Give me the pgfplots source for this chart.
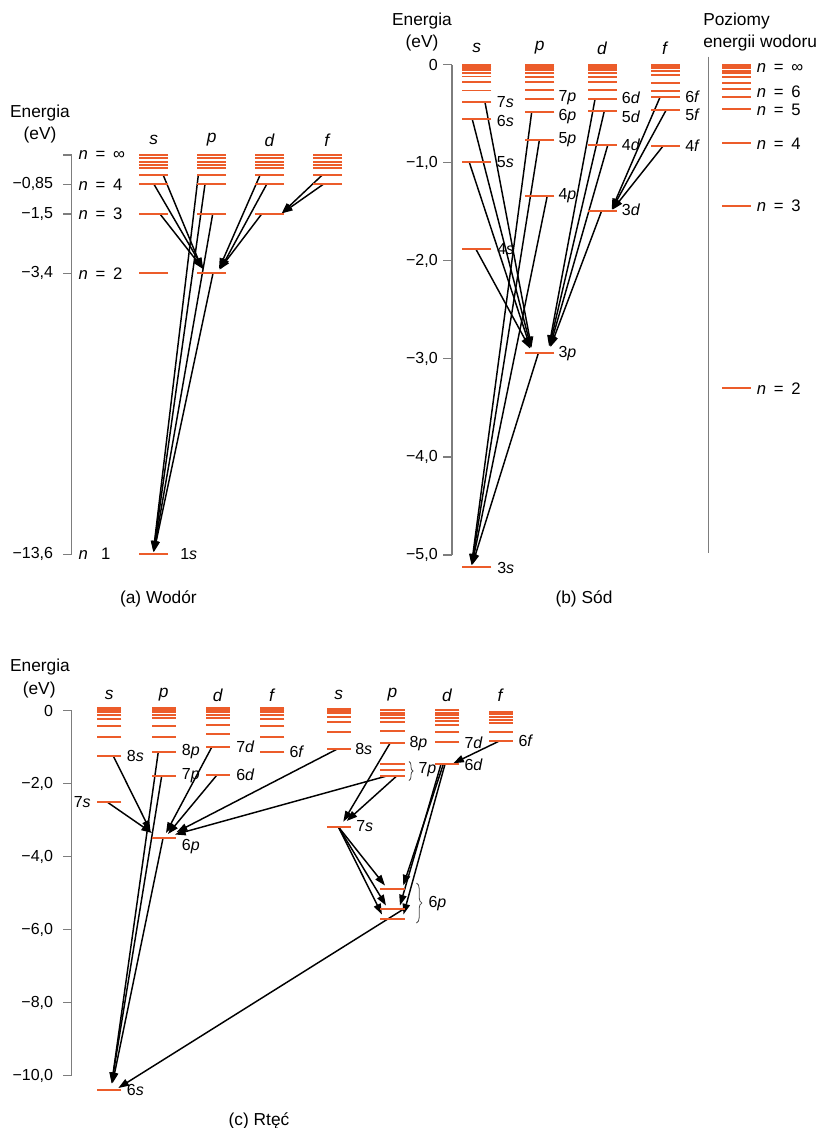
\documentclass[border=0pt]{standalone}
\usepackage{pgfplots}
\pgfplotsset{compat=1.18}
\usepackage{fontspec}
\setmainfont{Liberation Sans}
\usetikzlibrary{arrows.meta,decorations.pathreplacing}
\definecolor{lvl}{RGB}{236,92,42}
\definecolor{axgray}{RGB}{125,125,125}
\newcommand\lbl{\fontsize{12}{14}\selectfont}
\newcommand\ttl{\fontsize{13}{15}\selectfont}
\newcommand\nfont{\fontsize{12.5}{15}\selectfont}
\def\splitlbl#1#2{#1\textit{#2}}
\newcommand\nl[1]{{\nfont\textit{n}\hspace{5.8pt}=\hspace{5.8pt}#1}}
\pgfplotsset{
  panel/.style={scale only axis, clip=false,
    axis x line=none, axis y line*=left,
    axis line style={axgray, line width=1pt, -},
    every tick/.style={axgray, line width=1pt},
    tick align=outside, major tick length=6.5pt,
    yticklabel style={font=\lbl, text=black, anchor=east, inner sep=0pt},
    xtick=\empty},
  lev/.style={only marks, mark=-, color=lvl, mark options={line width=1.45pt}},
  arr/.style={black, line width=1.1pt, -{Triangle[length=8pt,width=5.5pt]}, mark=none},
}
\newcommand\ar[4]{\addplot[arr] coordinates {(#1,#2) (#3,#4)};}
\begin{document}
\begin{tikzpicture}
\path[use as bounding box] (0,0) rectangle (613.5pt,-846pt);
% ---------------- (a) hydrogen (schematic energy scale) ----------------
\begin{axis}[panel, at={(53.775pt,-116.25pt)}, anchor=north west,
  width=208.7pt, height=299.5pt, xmin=71.7, xmax=350, ymin=-11.574, ymax=0,
  ytick={0,-0.849,-1.71,-3.43,-11.574},
  yticklabels={{},{−0,85},{−1,5},{−3,4},{−13,6}},
  yticklabel style={xshift=-7.3pt}]
\addplot[lev, mark size=10.9pt] coordinates {(153.7,0) (153.7,-0.096) (153.7,-0.194) (153.7,-0.281) (153.7,-0.386) (153.7,-0.588) (153.7,-0.849) (153.7,-1.71) (153.7,-3.43) (153.7,-11.574)};
\addplot[lev, mark size=10.9pt] coordinates {(211.7,0) (211.7,-0.096) (211.7,-0.194) (211.7,-0.281) (211.7,-0.386) (211.7,-0.588) (211.7,-0.849) (211.7,-1.71) (211.7,-3.43)};
\addplot[lev, mark size=10.9pt] coordinates {(269.6,0) (269.6,-0.096) (269.6,-0.194) (269.6,-0.281) (269.6,-0.386) (269.6,-0.588) (269.6,-0.849) (269.6,-1.71)};
\addplot[lev, mark size=10.9pt] coordinates {(327.5,0) (327.5,-0.096) (327.5,-0.194) (327.5,-0.281) (327.5,-0.386) (327.5,-0.588) (327.5,-0.849)};
\ar{163.3}{-0.588}{202}{-3.29}
\ar{154}{-0.849}{203.5}{-3.31}
\ar{160}{-1.71}{203}{-3.30}
\ar{260}{-0.588}{219}{-3.30}
\ar{266.7}{-0.849}{220.5}{-3.31}
\ar{261.7}{-1.71}{219.5}{-3.32}
\ar{322}{-0.588}{281.7}{-1.69}
\ar{323.3}{-0.849}{282}{-1.69}
\ar{198.3}{-0.588}{153.3}{-11.5}
\ar{205}{-0.849}{153.5}{-11.5}
\ar{212.7}{-1.71}{153.7}{-11.5}
\ar{213}{-3.43}{154}{-11.5}
\end{axis}
% ---------------- (b) sodium ----------------
\begin{axis}[panel, at={(339pt,-48.375pt)}, anchor=north west,
  width=274.5pt, height=367.875pt, xmin=452, xmax=818, ymin=-5, ymax=0,
  ytick={0,-1,-2,-3,-4,-5},
  yticklabels={{0},{−1,0},{−2,0},{−3,0},{−4,0},{−5,0}},
  yticklabel style={xshift=-4pt}]
\addplot[lev, mark size=11pt] coordinates {(476.7,0) (476.7,-0.015) (476.7,-0.036) (476.7,-0.056) (476.7,-0.084) (476.7,-0.122) (476.7,-0.181) (476.7,-0.265) (476.7,-0.385) (476.7,-0.559) (476.7,-0.997) (476.7,-1.884) (476.7,-5.127)};
\addplot[lev, mark size=11pt] coordinates {(539.7,0) (539.7,-0.015) (539.7,-0.036) (539.7,-0.056) (539.7,-0.084) (539.7,-0.13) (539.7,-0.181) (539.7,-0.263) (539.7,-0.355) (539.7,-0.484) (539.7,-0.774) (539.7,-1.337) (539.7,-2.944)};
\addplot[lev, mark size=11pt] coordinates {(602.2,0) (602.2,-0.015) (602.2,-0.036) (602.2,-0.056) (602.2,-0.084) (602.2,-0.13) (602.2,-0.181) (602.2,-0.263) (602.2,-0.355) (602.2,-0.474) (602.2,-0.824) (602.2,-1.49)};
\addplot[lev, mark size=11pt] coordinates {(665.3,0) (665.3,-0.015) (665.3,-0.039) (665.3,-0.063) (665.3,-0.107) (665.3,-0.192) (665.3,-0.267) (665.3,-0.334) (665.3,-0.467) (665.3,-0.828)};
\addplot[lev, mark size=10.6pt] coordinates {(736.5,0) (736.5,-0.018) (736.5,-0.039) (736.5,-0.063) (736.5,-0.09) (736.5,-0.13) (736.5,-0.191) (736.5,-0.252) (736.5,-0.328) (736.5,-0.457) (736.5,-0.797) (736.5,-1.442) (736.5,-3.294)};
\addplot[axgray, line width=1pt, mark=none] coordinates {(708.3,0.08) (708.3,-4.983)};
\ar{485}{-0.385}{531.5}{-2.885}
\ar{472.3}{-0.559}{531}{-2.885}
\ar{469.3}{-0.997}{530.5}{-2.89}
\ar{476}{-1.884}{530}{-2.895}
\ar{595}{-0.355}{549}{-2.87}
\ar{604.3}{-0.474}{549.5}{-2.87}
\ar{607.7}{-0.824}{550}{-2.875}
\ar{601.7}{-1.49}{550.5}{-2.88}
\ar{660}{-0.334}{611.7}{-1.476}
\ar{666}{-0.467}{612}{-1.476}
\ar{663.3}{-0.828}{612.5}{-1.48}
\ar{531.7}{-0.484}{471.5}{-5.10}
\ar{539.3}{-0.774}{471.7}{-5.10}
\ar{547.3}{-1.337}{472}{-5.10}
\ar{538.3}{-2.944}{472.3}{-5.10}
\end{axis}
% ---------------- (c) mercury ----------------
\begin{axis}[panel, at={(53.775pt,-533.025pt)}, anchor=north west,
  width=351.2pt, height=273.75pt, xmin=71.7, xmax=540, ymin=-10, ymax=0,
  ytick={0,-2,-4,-6,-8,-10},
  yticklabels={{0},{−2,0},{−4,0},{−6,0},{−8,0},{−10,0}},
  yticklabel style={xshift=-7.3pt}]
\addplot[lev, mark size=9.15pt] coordinates {(109.2,0.082) (109.2,0.019) (109.2,-0.044) (109.2,-0.118) (109.2,-0.227) (109.2,-0.411) (109.2,-0.712) (109.2,-1.241) (109.2,-2.493) (109.2,-10.392)};
\addplot[lev, mark size=9.15pt] coordinates {(163.8,0.082) (163.8,0.019) (163.8,-0.044) (163.8,-0.118) (163.8,-0.208) (163.8,-0.411) (163.8,-0.712) (163.8,-1.123) (163.8,-1.789) (163.8,-3.496)};
\addplot[lev, mark size=9.15pt] coordinates {(217.8,0.082) (217.8,0.019) (217.8,-0.044) (217.8,-0.118) (217.8,-0.208) (217.8,-0.392) (217.8,-0.647) (217.8,-1.003) (217.8,-1.77)};
\addplot[lev, mark size=9.15pt] coordinates {(272.2,0.082) (272.2,0.019) (272.2,-0.044) (272.2,-0.118) (272.2,-0.227) (272.2,-0.411) (272.2,-0.712) (272.2,-1.123)};
\addplot[lev, mark size=9.15pt] coordinates {(338.8,0.047) (338.8,-0.008) (338.8,-0.071) (338.8,-0.164) (338.8,-0.301) (338.8,-0.592) (338.8,-1.058) (338.8,-3.178)};
\addplot[lev, mark size=9.15pt] coordinates {(392.5,0.019) (392.5,-0.055) (392.5,-0.118) (392.5,-0.208) (392.5,-0.318) (392.5,-0.548) (392.5,-0.893) (392.5,-1.46) (392.5,-1.625) (392.5,-1.789) (392.5,-4.893) (392.5,-5.441) (392.5,-5.699)};
\addplot[lev, mark size=9.15pt] coordinates {(447.2,0.019) (447.2,-0.055) (447.2,-0.118) (447.2,-0.192) (447.2,-0.274) (447.2,-0.392) (447.2,-0.575) (447.2,-0.866) (447.2,-1.468)};
\addplot[lev, mark size=9.15pt] coordinates {(500.8,-0.027) (500.8,-0.09) (500.8,-0.164) (500.8,-0.255) (500.8,-0.345) (500.8,-0.575) (500.8,-0.822)};
\ar{113.3}{-1.241}{150.5}{-3.296}
\ar{106.7}{-2.493}{152}{-3.351}
\ar{211.7}{-1.003}{166}{-3.351}
\ar{216.7}{-1.77}{168}{-3.378}
\ar{336.7}{-1.058}{176.7}{-3.323}
\ar{386.7}{-1.789}{175}{-3.392}
\ar{158.3}{-1.123}{111.7}{-10.208}
\ar{161.7}{-1.789}{111.7}{-10.208}
\ar{163}{-3.496}{112.5}{-10.208}
\ar{403.3}{-5.441}{118.3}{-10.337}
\ar{390}{-0.893}{343.3}{-3.041}
\ar{396.7}{-1.789}{346.7}{-3.022}
\ar{338.3}{-3.178}{385}{-4.789}
\ar{338.3}{-3.178}{386}{-5.337}
\ar{338.3}{-3.178}{382}{-5.584}
\ar{443.3}{-1.468}{403.3}{-4.789}
\ar{441}{-1.468}{400}{-5.337}
\ar{445}{-1.468}{403.5}{-5.584}
\ar{500}{-0.822}{453.3}{-1.441}
\end{axis}
% ---------------- text ----------------
\begin{scope}[x=0.75pt,y=-0.75pt, every node/.style={font=\lbl, inner sep=0pt}]
% (a)
\node[font=\ttl] at (40,112.7) {Energia};
\node[font=\ttl] at (40,135) {(eV)};
\foreach \x/\t in {153.7/s,211.7/p,269.6/d,327.5/f} \node[font=\ttl] at (\x,140) {\textit{\t}};
\node[anchor=west] at (78.3,155) {\nl{∞}};
\node[anchor=west] at (78.3,184.3) {\nl{4}};
\node[anchor=west] at (78.3,214) {\nl{3}};
\node[anchor=west] at (78.3,273.3) {\nl{2}};
\node[anchor=west, font=\nfont] at (78.3,554) {\textit{n}\hspace{10pt}1};
\node[anchor=west] at (180,554) {1\textit{s}};
\node[font=\ttl] at (158.4,599) {(a) Wodór};
% (b)
\node[font=\ttl] at (422,21) {Energia};
\node[font=\ttl] at (422,43) {(eV)};
\foreach \x/\t in {476.7/s,539.7/p,602.2/d,665.3/f} \node[font=\ttl] at (\x,48) {\textit{\t}};
\node[anchor=west, font=\ttl] at (703,20.7) {Poziomy};
\node[anchor=west, font=\ttl] at (703,42.7) {energii wodoru};
\foreach \x/\y/\t in {496.7/102.3/7s,496.7/120.5/6s,496.7/162.5/5s,497/249.3/4s,497/567.5/3s,
  558.3/98/7p,558.3/116.7/6p,558.3/139.3/5p,558.3/196/4p,558.3/353.3/3p,
  621.7/97.7/6d,621.7/116.7/5d,621.7/145/4d,621.7/210/3d,
  685/96.7/6f,685/115/5f,685/145.3/4f}
  {\node[anchor=west] at (\x,\y) {\expandafter\splitlbl\t};}
\foreach \y/\t in {68.3/∞,91.7/6,110/5,143.3/4,206/3,388.3/2}
  \node[anchor=west] at (756.7,\y) {\nl{\t}};
\node[font=\ttl] at (584,599.3) {(b) Sód};
% (c)
\node[font=\ttl] at (40,667.3) {Energia};
\node[font=\ttl] at (39.2,690) {(eV)};
\foreach \x/\t in {109.2/s,163.8/p,217.8/d,272.2/f,338.8/s,392.5/p,447.2/d,500.8/f} \node[font=\ttl] at (\x,695) {\textit{\t}};
\foreach \x/\y/\t in {126.7/756/8s,181.7/751.7/8p,181.7/776/7p,181.7/846.7/6p,236/746.7/7d,236/775/6d,289.3/751.7/6f,
  355/749.3/8s,356/826/7s,409.3/743.3/8p,418.3/770/7p,464.3/742.3/7d,464.3/764.3/6d,518.3/740.7/6f,428.3/903.3/6p,126.7/1090/6s}
  {\node[anchor=west] at (\x,\y) {\expandafter\splitlbl\t};}
\node[anchor=east] at (91,801.7) {7\textit{s}};
\draw[black!70, line width=0.6pt, decorate, decoration={brace, amplitude=3pt}] (409,761.5) -- (409,780.5);
\draw[black!70, line width=0.6pt, decorate, decoration={brace, amplitude=4pt}] (416.5,883) -- (416.5,923);
\node[font=\ttl] at (259,1120.7) {(c) Rtęć};
\end{scope}
\end{tikzpicture}
\end{document}
